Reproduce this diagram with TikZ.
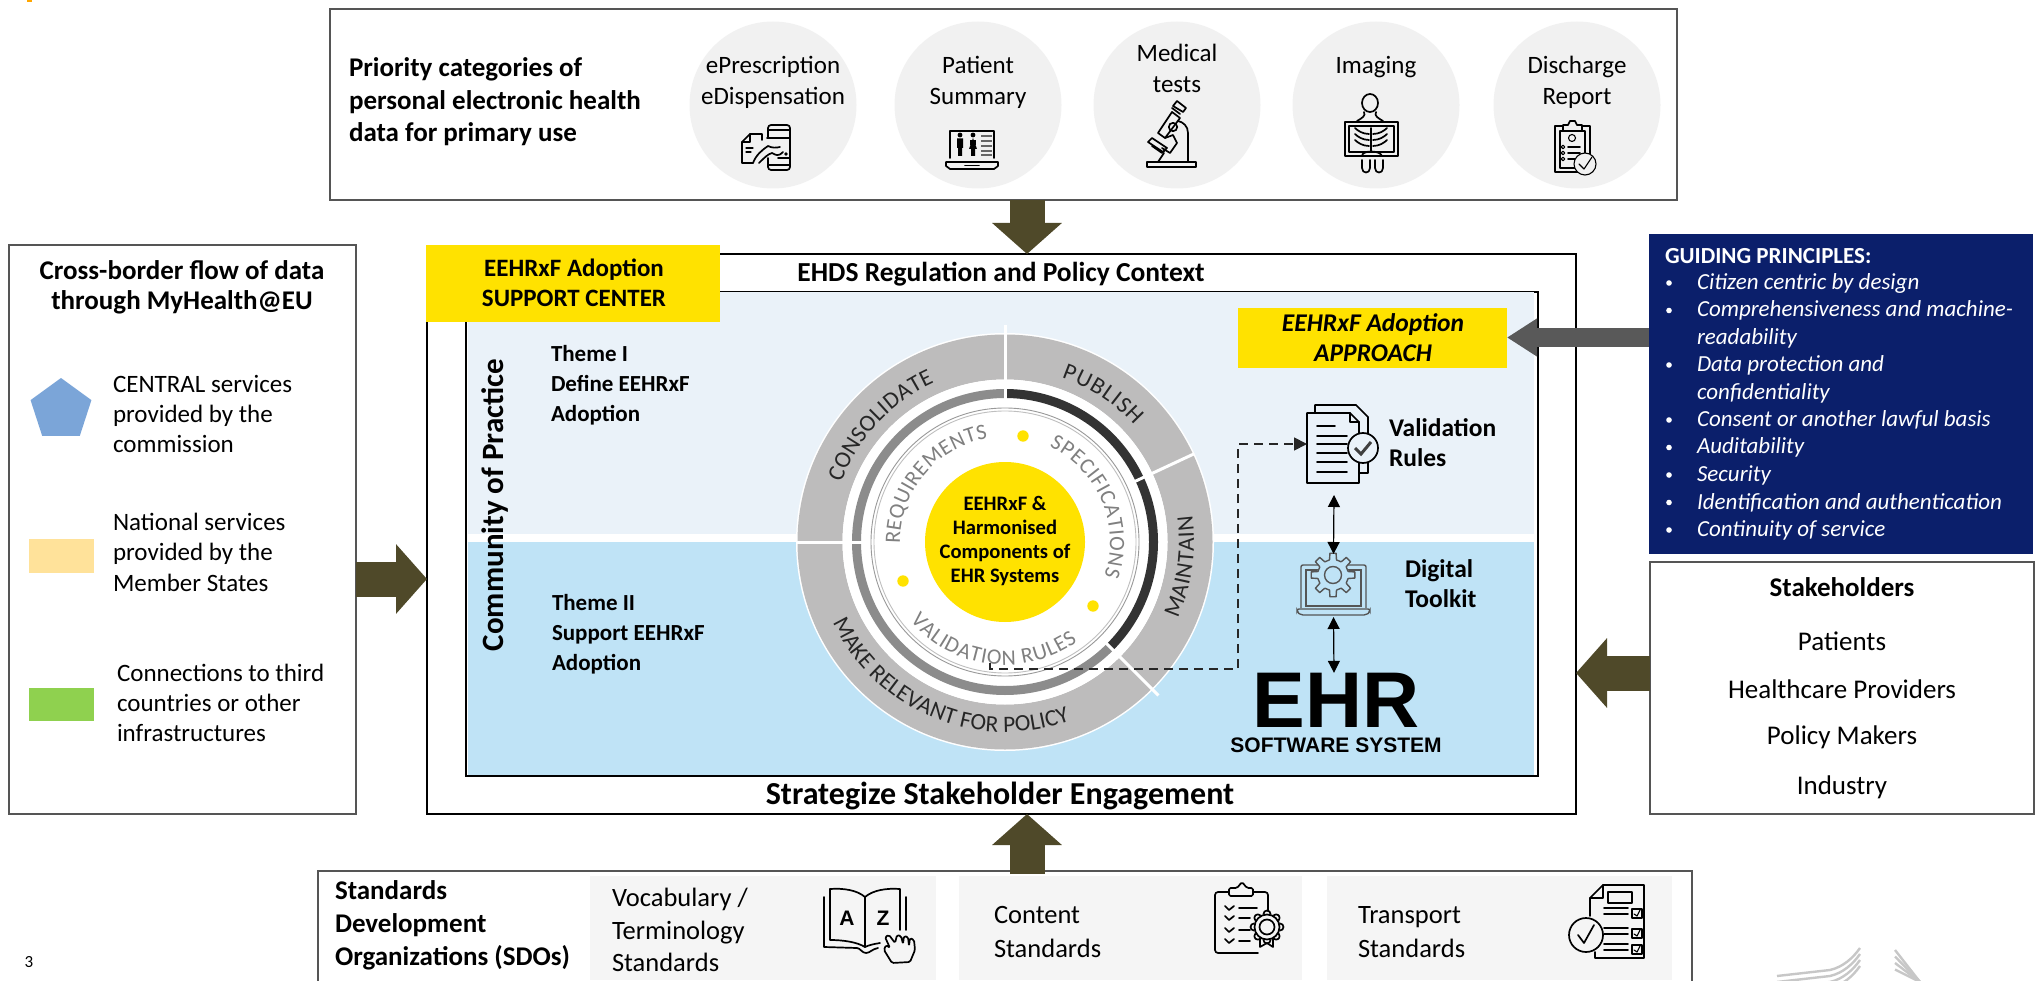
\documentclass[tikz,border=0pt]{standalone}
\usepackage{fontspec}
\setmainfont{Carlito}
\newfontfamily\ehrfont{Liberation Sans}
\usetikzlibrary{arrows.meta,decorations.text,shapes.geometric,calc}
\definecolor{olivearrow}{HTML}{4F4929}
\definecolor{greyarrow}{HTML}{595959}
\definecolor{navybox}{HTML}{0B1F6B}
\definecolor{panelup}{HTML}{EAF2F9}
\definecolor{paneldown}{HTML}{BFE3F6}
\definecolor{ringgrey}{HTML}{BDBCBC}
\definecolor{banddark}{HTML}{333333}
\definecolor{bandgrey}{HTML}{8C8C8C}
\definecolor{eyellow}{HTML}{FFE200}
\definecolor{softgrey}{HTML}{F1F1F1}
\definecolor{edgegrey}{HTML}{555555}
\definecolor{pentblue}{HTML}{7BA5D8}
\definecolor{swyellow}{HTML}{FFE29A}
\definecolor{swgreen}{HTML}{8FD14F}
\newcommand{\fs}[1]{\fontsize{#1}{#1}\selectfont}
\newcommand{\fl}[2]{\fontsize{#1}{#2}\selectfont}
\tikzset{
  boxframe/.style={draw=edgegrey,line width=1.6pt,fill=white,inner sep=0pt,outer sep=0pt},
  flat/.style={inner sep=0pt,outer sep=0pt},
  lbl/.style={inner sep=0pt,outer sep=0pt,text=black},
  blockarrow/.style={line width=35pt,draw=olivearrow,-{Triangle[length=31pt,width=68pt,fill=olivearrow]}},
  ico/.style={draw=black,line width=1.7pt,line join=round,line cap=round},
  icothin/.style={draw=black,line width=1.1pt,line join=round,line cap=round},
  dbl/.style={line width=1.2pt,draw=black,{Triangle[length=12pt,width=12pt]}-{Triangle[length=12pt,width=12pt]}},
  ringtext/.style={decorate,decoration={text along path,text align={fit to path},raise=0pt}},
}
\begin{document}
\begin{tikzpicture}[x=1pt,y=-1pt]
\useasboundingbox (0,0) rectangle (2042,981);
\fill[white] (0,0) rectangle (2042,981);
\fill[orange!70!yellow] (27,0) rectangle (32,2);

% --- main frames
\node[boxframe,minimum width=1347pt,minimum height=191pt] (topbox) at (1003.5,104.5) {};
\node[boxframe,minimum width=347pt,minimum height=569pt] (leftbox) at (182.5,529.5) {};
\node[boxframe,draw=black,line width=2pt,minimum width=1149pt,minimum height=560pt] (outer) at (1001.5,534) {};
\node[boxframe,draw=black,minimum width=1072pt,minimum height=484pt] (inner) at (1002,534) {};
\node[flat,fill=panelup,minimum width=1066pt,minimum height=242pt] (upper) at (1001,413) {};
\node[flat,fill=paneldown,minimum width=1066pt,minimum height=233pt] (lower) at (1001,658.5) {};
\node[boxframe,minimum width=384pt,minimum height=252pt] (stake) at (1842,688) {};
\node[flat,fill=navybox,minimum width=384pt,minimum height=320pt] (guide) at (1841,394) {};
\fill[white] (318,871) rectangle (1692,981);
\draw[edgegrey,line width=1.6pt] (318,981) -- (318,871) -- (1692,871) -- (1692,981);
\coordinate (sdotop) at (1027,871);

% --- top categories
\node[lbl,anchor=west,align=left,font=\bfseries\fl{27}{32.5}] (prio) at (349,102) {Priority categories of\\personal electronic health\\data for primary use};
\foreach \n/\cx in {c1/773,c2/978,c3/1177,c4/1376,c5/1577}
  \node[flat,circle,fill=softgrey,minimum size=167pt] (\n) at (\cx,105) {};
\node[lbl,align=center,font=\fl{25}{31}] (t1) at (773,82.5) {ePrescription\\eDispensation};
\node[lbl,align=center,font=\fl{25}{31}] (t2) at (978,82.5) {Patient\\Summary};
\node[lbl,align=center,font=\fl{25}{31}] (t3) at (1177,68.5) {Medical\\tests};
\node[lbl,font=\fs{25}] (t4) at (1376,67) {Imaging};
\node[lbl,align=center,font=\fl{25}{31}] (t5) at (1577,82.5) {Discharge\\Report};

% icon ePrescription
\draw[ico,rounded corners=3pt] (768,138) -- (768,125) -- (790,125) -- (790,170) -- (768,170) -- (768,158);
\draw[ico] (768,130) -- (790,130) (768,165) -- (790,165);
\draw[ico] (767,138) -- (790,138) (778,158) -- (790,158);
\draw[ico] (762,140) -- (762,134) -- (750,134) -- (742,142) -- (742,163) -- (753,163);
\draw[ico] (742,142) -- (750,142) -- (750,134);
\draw[icothin] (746,148) -- (753,148) (746,152) -- (751,152);
\draw[ico] (753,163) .. controls (756,155) and (762,150) .. (768,146) .. controls (772,148) and (776,148) .. (780,147);
\draw[ico] (759,163) .. controls (764,158) and (768,154) .. (772,153) .. controls (776,155) and (778,157) .. (783,152);
\fill (786,154) circle (1.8);

% icon patient summary
\draw[ico] (950,158) -- (950,131) -- (994,131) -- (994,158);
\draw[ico] (946,162) -- (998,162) -- (998,166) -- (994,169) -- (950,169) -- (946,166) -- cycle;
\draw[ico] (965,165.5) -- (979,165.5);
\fill (960,135) circle (2.4) (973,135) circle (2.4);
\fill (957,138.5) rectangle (963,148) (958,148) rectangle (962,156);
\fill (973,138) -- (969,149) -- (977,149) -- cycle (971,149) rectangle (975,156);
\fill (970,140) rectangle (976,145);
\foreach \yy in {136,141,146,151,155} \draw[line width=2pt,black!60] (981,\yy) -- (992,\yy);

% icon microscope
\draw[ico] (1147,162) rectangle (1196,167);
\draw[ico] (1188,162) -- (1188,133) .. controls (1188,126) and (1183,122) .. (1178,121);
\draw[ico] (1177,101) -- (1186,108) -- (1183,112) -- (1173,106) -- cycle;
\draw[ico] (1172,108) -- (1180,114) (1172,112) -- (1180,118) -- (1165,138) -- (1158,133) -- cycle;
\draw[ico] (1173,127) circle (4.2);
\draw[ico] (1165,138) -- (1173,135) -- (1177,143) -- (1170,153) -- (1162,148);
\draw[ico] (1148,142) -- (1152,138) -- (1167,148) -- (1163,152) -- cycle;
\draw[ico] (1152,146) -- (1162,153) -- (1165,150);
\draw[ico] (1164,153) -- (1158,162);

% icon imaging
\draw[ico] (1370,103) ellipse (8 and 9);
\draw[ico] (1364,112) .. controls (1366,116) and (1362,118) .. (1357,121);
\draw[ico] (1376,112) .. controls (1374,116) and (1378,118) .. (1383,121);
\draw[ico] (1345,122) rectangle (1398,156);
\draw[icothin] (1349,126) rectangle (1394,152);
\draw[ico] (1371,128) -- (1371,151);
\foreach \yy in {131,137,143} {
  \draw[ico] (1369,\yy+3) .. controls (1363,\yy+3) and (1358,\yy) .. (1355,\yy-3);
  \draw[ico] (1373,\yy+3) .. controls (1379,\yy+3) and (1384,\yy) .. (1387,\yy-3);
}
\draw[ico] (1362,156) .. controls (1362,150) and (1380,150) .. (1382,156);
\draw[ico] (1362,160) -- (1362,168) .. controls (1362,174) and (1370,174) .. (1370,168) -- (1370,160);
\draw[ico] (1375,160) -- (1375,168) .. controls (1375,174) and (1383,174) .. (1383,168) -- (1383,160);

% icon discharge report
\draw[ico] (1578,172) -- (1555,172) -- (1555,126) -- (1590,126) -- (1590,154);
\draw[ico,fill=softgrey] (1563,131) -- (1563,125) -- (1568,125) -- (1570,121) -- (1575,121) -- (1577,125) -- (1582,125) -- (1582,131) -- cycle;
\draw[icothin] (1560,131) rectangle (1585,168);
\draw[icothin] (1572,138) circle (3.5);
\foreach \yy in {147,153,159} {\draw[icothin] (1563,\yy) circle (1.8); \draw[ico] (1568,\yy) -- (1580,\yy);}
\draw[icothin,fill=softgrey] (1585,164) circle (11);
\draw[icothin] (1579,164) -- (1584,169) -- (1592,157);

% --- panel texts
\node[flat,fill=eyellow,minimum width=294pt,minimum height=77pt] (support) at (573,283.5) {};
\node[lbl,align=center,font=\bfseries\fl{25}{30}] (supporttxt) at (574,283) {EEHRxF Adoption\\SUPPORT CENTER};
\node[lbl,font=\bfseries\fs{27.5}] (ehds) at (1001,274) {EHDS Regulation and Policy Context};
\node[lbl,font=\bfseries\fs{32}] (strat) at (1000,796) {Strategize Stakeholder Engagement};
\node[lbl,rotate=90,font=\bfseries\fs{31}] (cop) at (495,505) {Community of Practice};
\node[lbl,anchor=west,align=left,font=\bfseries\fl{23}{30}] (th1) at (551,385) {Theme I\\Define EEHRxF\\Adoption};
\node[lbl,anchor=west,align=left,font=\bfseries\fl{23}{30}] (th2) at (552,634) {Theme II\\Support EEHRxF\\Adoption};
\node[flat,fill=eyellow,minimum width=269pt,minimum height=60pt] (approach) at (1372.5,338) {};
\node[lbl,align=center,font=\bfseries\itshape\fl{25.5}{30}] (approachtxt) at (1373,338) {EEHRxF Adoption\\APPROACH};

% --- wheel
\begin{scope}[shift={(1005,542)},x=1pt,y=1pt]
  \fill[white] (0,0) circle (209);
  \draw[ringgrey,line width=45pt] (0,0) circle (185);
  \fill[white] (0,0) circle (162.5);
  \draw[bandgrey,line width=9pt] (-45:148.5) arc[start angle=-45,end angle=-270,radius=148.5];
  \draw[banddark,line width=9pt] (90:148.5) arc[start angle=90,end angle=-45,radius=148.5];
  \foreach \ang/\rout in {90/217,180/209,25/209,-45/217}
    \draw[white,line width=3pt] (\ang:143) -- (\ang:\rout);
  \draw[black!40,line width=.9pt] (0,0) circle (134);
  \draw[black!25,line width=.9pt] (0,0) circle (131);
  \fill[eyellow] (0,0) circle (80);
  \fill[eyellow] (18,106) circle (5.7) (-102,-39) circle (5.7) (88,-64) circle (5.7);
  \path[ringtext,decoration={text={|\fs{23.5}\color{black!85}|CONSOLIDATE}}] (160:174) arc[start angle=160,end angle=114,radius=174];
  \path[ringtext,decoration={text={|\fs{23.5}\color{black!85}|PUBLISH}}] (71:174) arc[start angle=71,end angle=42,radius=174];
  \path[ringtext,decoration={text={|\fs{23.5}\color{black!85}|MAINTAIN}}] (-24:189) arc[start angle=-24,end angle=8,radius=189];
  \path[ringtext,decoration={text={|\fs{23.5}\color{black!85}|MAKE RELEVANT FOR POLICY}}] (205:190) arc[start angle=205,end angle=290,radius=190];
  \path[ringtext,decoration={text={|\fs{22}\color{black!50}|REQUIREMENTS}}] (181:105) arc[start angle=181,end angle=99.5,radius=105];
  \path[ringtext,decoration={text={|\fs{22}\color{black!50}|SPECIFICATIONS}}] (65:105) arc[start angle=65,end angle=-19,radius=105];
  \path[ringtext,decoration={text={|\fs{22}\color{black!50}|VALIDATION RULES}}] (219.6:123) arc[start angle=219.6,end angle=306,radius=123];
\end{scope}
\node[lbl,align=center,font=\bfseries\fl{20.6}{24}] (hub) at (1005,541) {EEHRxF \&\\Harmonised\\Components of\\EHR Systems};

% --- right column of the inner panel
\node[flat,minimum width=71pt,minimum height=78pt] (valicon) at (1342.5,444) {};
\node[lbl,anchor=west,align=left,font=\bfseries\fl{25.5}{30}] (valtxt) at (1389,443) {Validation\\Rules};
\node[flat,minimum width=73pt,minimum height=62pt] (gearicon) at (1333.5,584) {};
\node[lbl,anchor=west,align=left,font=\bfseries\fl{25.5}{30}] (digtxt) at (1405,584) {Digital\\Toolkit};
\node[lbl,font=\ehrfont\bfseries\fs{79}] (ehr) at (1336,700) {EHR};
\node[lbl,font=\ehrfont\bfseries\fs{21}] (ehrsub) at (1336,745) {SOFTWARE SYSTEM};

\draw[ico] (1315,413) -- (1315,405) -- (1356,405) -- (1368,417) -- (1368,473) -- (1359,473);
\draw[ico,fill=panelup] (1307,413) -- (1350,413) -- (1359,422) -- (1359,483) -- (1307,483) -- cycle;
\draw[ico] (1350,413) -- (1350,422) -- (1359,422);
\foreach \yy/\xe in {426/1335,436/1347,444/1347,453/1347,462/1347,472/1347} \draw[ico] (1317,\yy) -- (\xe,\yy);
\draw[ico,fill=panelup] (1363,448) circle (15);
\draw[line width=3pt,black!75] (1355,448) -- (1361,454) -- (1371,442);

\draw[edgegrey,line width=1.4pt,rounded corners=2pt] (1301,608) -- (1301,565) -- (1366,565) -- (1366,608);
\draw[edgegrey,line width=1.2pt] (1306,606) -- (1306,570) -- (1361,570) -- (1361,606) -- cycle;
\draw[edgegrey,line width=1.4pt,rounded corners=2pt] (1297,609) -- (1370,609) -- (1370,612) -- (1366,615) -- (1301,615) -- (1297,612) -- cycle;
\begin{scope}[shift={(1333,575)}]
  \fill[paneldown] (0,0) circle (16);
  \foreach \a in {0,45,...,315}
    \draw[edgegrey,line width=1.4pt,line join=round,fill=paneldown] (\a-13:15.5) -- (\a-8:22) -- (\a+8:22) -- (\a+13:15.5) -- (\a+32:15.5);
  \draw[edgegrey,line width=1.4pt] (0,0) circle (8.5);
\end{scope}

\coordinate (dashstart) at (990,663);
\coordinate (dashcorner) at (1238,669);
\draw[black!85,line width=1.8pt,dash pattern=on 9pt off 6pt,-{Triangle[length=13pt,width=13pt]}]
  (dashstart) |- (dashcorner) |- (valicon.west);
\draw[dbl] ($(valicon.south)+(-8.5,12)$) -- ($(gearicon.north)+(0,1)$);
\draw[dbl] ($(gearicon.south)+(0,2)$) -- ($(ehr.north)+(-2,0)$);

% --- left legend
\node[lbl,align=center,font=\bfseries\fl{27}{30}] (cross) at (182,287) {Cross-border flow of data\\through MyHealth@EU};
\node[flat,regular polygon,regular polygon sides=5,fill=pentblue,minimum size=64pt] (pent) at (61,410) {};
\node[lbl,anchor=west,align=left,font=\fl{25}{30}] (l1) at (113,414) {CENTRAL services\\provided by the\\commission};
\node[flat,fill=swyellow,minimum width=65pt,minimum height=34pt] (ysw) at (61.5,556) {};
\node[lbl,anchor=west,align=left,font=\fl{25}{30.5}] (l2) at (113,552) {National services\\provided by the\\Member States};
\node[flat,fill=swgreen,minimum width=65pt,minimum height=33pt] (gsw) at (61.5,704.5) {};
\node[lbl,anchor=west,align=left,font=\fl{25}{30}] (l3) at (117,703) {Connections to third\\countries or other\\infrastructures};

% --- guiding principles
\node[lbl,anchor=west,text=white,font=\bfseries\fs{23}] (gp) at (1665,256) {GUIDING PRINCIPLES:};
\foreach \yy/\txt in {283/Citizen centric by design,310.5/Comprehensiveness and machine-,338/readability,365/Data protection and,393/confidentiality,420/Consent or another lawful basis,447.5/Auditability,475/Security,502.5/Identification and authentication,530/Continuity of service}
  \node[lbl,anchor=west,text=white,font=\itshape\fs{23}] at (1697,\yy) {\txt};
\foreach \yy in {283,310.5,365,420,447.5,475,502.5,530}
  \fill[white] (1669,\yy) circle (2.8);

% --- stakeholders
\node[lbl,font=\bfseries\fs{27}] (s0) at (1842,587) {Stakeholders};
\node[lbl,font=\fs{27}] (s1) at (1842,641) {Patients};
\node[lbl,font=\fs{27}] (s2) at (1842,689) {Healthcare Providers};
\node[lbl,font=\fs{27}] (s3) at (1842,737) {Policy Makers};
\node[lbl,font=\fs{27}] (s4) at (1842,787) {Industry};

% --- block arrows
\coordinate (ax) at (1027,0);
\draw[blockarrow] (topbox.south -| ax) -- (outer.north -| ax);
\draw[blockarrow] (sdotop) ++(0,3) -- (outer.south -| ax);
\coordinate (ly) at (0,579);
\draw[blockarrow] (leftbox.east |- ly) -- (outer.west |- ly);
\coordinate (ry) at (0,673);
\draw[blockarrow] (stake.west |- ry) -- (outer.east |- ry);
\coordinate (gy) at (0,337.5);
\draw[line width=19pt,draw=greyarrow,-{Triangle[length=30pt,width=36pt,fill=greyarrow]}] (guide.west |- gy) -- (approach.east |- gy);

% --- SDO band
\node[lbl,anchor=west,align=left,font=\bfseries\fl{27}{33}] (sdo) at (335,925) {Standards\\Development\\Organizations (SDOs)};
\node[flat,fill=softgrey!70!white,minimum width=346pt,minimum height=104pt] (p1) at (763,928) {};
\node[flat,fill=softgrey!70!white,minimum width=343pt,minimum height=104pt] (p2) at (1130.5,928) {};
\node[flat,fill=softgrey!70!white,minimum width=345pt,minimum height=104pt] (p3) at (1499.5,928) {};
\node[lbl,anchor=west,align=left,font=\fl{26.5}{32.5}] (v1) at (612,930) {Vocabulary /\\Terminology\\Standards};
\node[lbl,anchor=west,align=left,font=\fl{26.5}{34}] (v2) at (994,932) {Content\\Standards};
\node[lbl,anchor=west,align=left,font=\fl{26.5}{34}] (v3) at (1358,932) {Transport\\Standards};

% icon A-Z book
\draw[ico] (824,897) -- (824,947) -- (857,948) .. controls (860,948) and (862,953) .. (866,953) .. controls (870,953) and (872,949) .. (878,948);
\draw[ico] (830,889) .. controls (843,888) and (857,890) .. (865,897) .. controls (873,890) and (887,888) .. (900,889) -- (900,930);
\draw[ico] (830,889) -- (830,940) .. controls (843,940) and (857,942) .. (865,947) .. controls (869,945) and (874,944) .. (880,943);
\draw[ico] (865,897) -- (865,947);
\draw[ico] (906,897) -- (906,930);
\node[lbl,font=\ehrfont\bfseries\fs{21}] (azA) at (847,918) {A};
\node[lbl,font=\ehrfont\bfseries\fs{21}] (azZ) at (883,918) {Z};
\draw[ico,fill=softgrey!70!white,rounded corners=1.5pt] (892,963) -- (884,950) -- (886,945) -- (890,948) -- (885,937) -- (889,935) -- (895,943) -- (897,935) -- (901,936) -- (903,944) -- (904,936) -- (908,937) -- (909,946) -- (910,938) -- (914,940) -- (915,950) -- (910,962) -- cycle;

% icon content standards
\draw[ico,rounded corners=3pt] (1229,892) -- (1215,892) -- (1215,953) -- (1258,953);
\draw[ico,rounded corners=3pt] (1253,892) -- (1268,892) -- (1268,911);
\draw[ico,rounded corners=1.5pt] (1229,896) -- (1229,888) -- (1237,888) -- (1242,882) -- (1247,888) -- (1253,888) -- (1253,896) -- cycle;
\foreach \yy/\xe in {908/1257,918/1250,930/1250,941/1250} {
  \draw[ico] (1225,\yy-2) -- (1229,\yy+2) -- (1234,\yy-2);
  \draw[ico] (1239,\yy) -- (\xe,\yy);
}
\foreach \a in {0,45,...,315} \draw[ico] ($(1267,927)+(\a:13)$) circle (3.5);
\fill[softgrey!70!white] (1267,927) circle (13);
\draw[ico] (1267,927) circle (12.5);
\draw[ico] (1267,927) circle (7.5);
\draw[ico] (1260,939) -- (1260,947) -- (1267,943) -- (1273,947) -- (1273,939);

% icon transport standards
\draw[ico] (1590,916) -- (1590,898) -- (1603,885) -- (1644,885) -- (1644,958) -- (1595,958) -- (1595,952);
\draw[ico] (1603,885) -- (1603,898) -- (1590,898);
\draw[ico] (1608,892) rectangle (1632,903);
\draw[ico] (1586,935) circle (17);
\draw[ico] (1578,935) -- (1584,943) -- (1594,925);
\foreach \yy in {914,934,950} {
  \draw[ico] (1604,\yy) -- (1628,\yy);
  \draw[ico] (1632,\yy-5) rectangle (1642,\yy+4);
  \draw[icothin] (1634,\yy) -- (1637,\yy+2) -- (1640,\yy-4);
}
\draw[ico] (1604,908) -- (1628,908) (1604,928) -- (1628,928) (1604,944) -- (1628,944);

% --- page number and logo
\node[lbl,font=\fs{17}] (pageno) at (29,962) {3};
\foreach \k in {0,1,2,3}
  \draw[black!22,line width=2.4pt] (1777,976+\k*6) -- (1830,970+\k*6) .. controls (1843,967+\k*6) and (1853,958+\k*6) .. (1860,948+\k*6);
\foreach \k in {0,1,2,3}
  \draw[black!22,line width=2.4pt] (1895,950+\k*6.5) -- (1920,982);
\end{tikzpicture}
\end{document}
